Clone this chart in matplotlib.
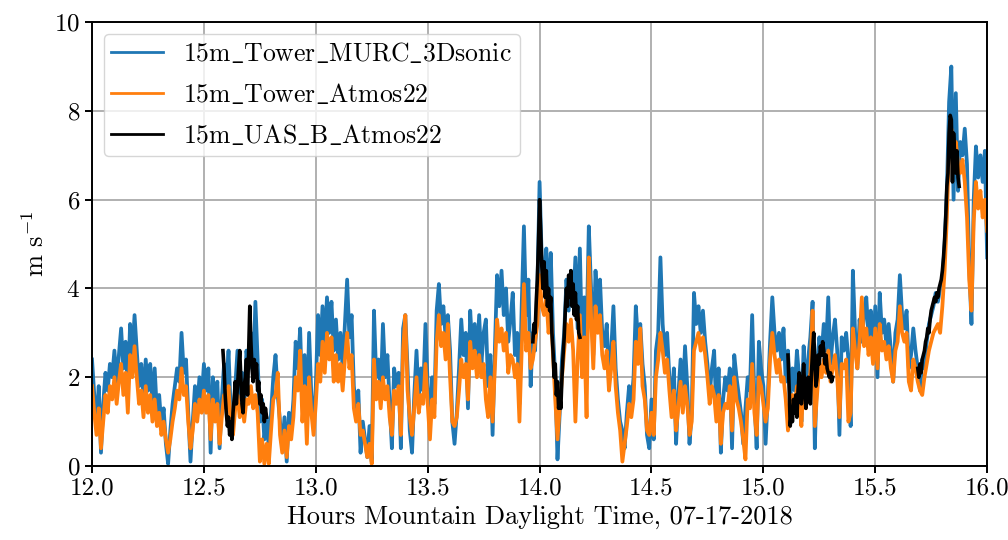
import numpy as np
import matplotlib
matplotlib.use("Agg")
import matplotlib.pyplot as plt

plt.rcParams['font.family'] = 'serif'
plt.rcParams['font.serif'] = ['cmr10', 'DejaVu Serif']
plt.rcParams['mathtext.fontset'] = 'cm'
plt.rcParams['axes.formatter.use_mathtext'] = True

# ---- data (hours MDT, m/s) ----
t_start, t_end = 12.0, 16.0

sonic_speed = [
    2.4, 1.6, 1.0, 1.8, 0.3, 1.4, 2.1, 1.7, 2.3, 2.0,
    2.6, 1.9, 2.5, 3.1, 2.2, 2.8, 1.6, 3.2, 2.5, 3.4,
    2.6, 1.8, 2.3, 1.5, 2.4, 1.7, 2.3, 1.4, 2.2, 1.2,
    1.6, 0.9, 1.3, 0.5, 0.05, 0.8, 1.4, 1.8, 2.2, 1.9,
    3.0, 2.1, 2.4, 1.2, 0.1, 1.0, 1.8, 1.3, 2.0, 1.5,
    2.3, 1.7, 2.2, 0.3, 2.0, 1.4, 1.9, 0.4, 1.5, 2.3,
    1.8, 2.6, 1.2, 0.9, 1.8, 2.6, 1.5, 2.1, 1.3, 2.6,
    2.2, 3.0, 2.0, 3.7, 2.4, 1.0, 1.5, 0.6, 1.1, 0.4,
    1.2, 2.0, 2.5, 1.6, 1.0, 0.4, 1.1, 0.1, 1.2, 0.8,
    1.5, 2.8, 2.2, 3.1, 1.4, 2.5, 1.0, 3.0, 1.6, 0.9,
    1.8, 3.4, 2.5, 3.6, 2.8, 3.8, 3.0, 3.7, 2.6, 3.3,
    2.4, 3.0, 2.2, 3.2, 4.2, 2.9, 3.4, 1.8, 1.2, 1.7,
    0.3, 1.0, 0.6, 0.2, 0.9, 0.1, 3.5, 2.0, 2.4, 1.6,
    3.2, 2.0, 2.5, 1.4, 0.4, 2.2, 1.8, 2.1, 0.4, 3.1,
    3.4, 2.2, 0.8, 0.3, 1.6, 2.6, 1.5, 2.2, 1.7, 3.2,
    1.8, 1.0, 2.0, 1.4, 3.5, 4.1, 3.2, 3.6, 2.9, 3.4,
    2.6, 1.0, 0.5, 1.2, 2.2, 3.3, 2.5, 3.0, 1.3, 3.5,
    2.6, 3.2, 2.4, 3.4, 2.3, 3.0, 3.3, 1.8, 2.5, 0.7,
    2.6, 4.3, 3.6, 4.4, 3.4, 4.0, 2.8, 3.3, 3.9, 2.5,
    3.0, 1.4, 3.6, 5.4, 3.4, 4.2, 1.8, 3.0, 2.6, 4.0,
    6.4, 4.6, 4.2, 4.9, 3.7, 4.8, 3.0, 2.0, 0.15, 1.2,
    2.4, 3.0, 4.2, 3.5, 4.4, 3.6, 4.7, 3.1, 4.9, 2.6,
    3.8, 2.9, 5.4, 4.0, 2.5, 4.4, 3.4, 4.2, 3.0, 2.7,
    3.2, 2.0, 2.6, 3.6, 2.2, 1.5, 1.0, 0.8, 0.4, 1.2,
    1.8, 1.4, 2.0, 3.6, 2.8, 3.2, 2.3, 1.8, 0.7, 0.4,
    1.5, 0.6, 2.6, 3.0, 4.7, 3.2, 2.5, 3.0, 2.0, 1.4,
    2.2, 0.5, 1.6, 2.4, 1.5, 2.7, 1.8, 0.5, 1.2, 3.9,
    3.2, 3.6, 3.0, 3.5, 2.8, 2.3, 1.6, 2.2, 2.6, 1.2,
    2.2, 0.3, 1.5, 2.0, 1.7, 2.2, 0.4, 2.5, 2.0, 1.6,
    1.2, 0.5, 1.3, 2.0, 1.7, 3.4, 1.5, 0.4, 2.8, 2.2,
    1.8, 0.5, 1.6, 2.8, 3.8, 3.0, 2.6, 3.0, 2.4, 3.1,
    1.9, 2.6, 1.5, 2.2, 1.7, 2.6, 2.0, 1.0, 2.7, 1.6,
    2.4, 2.9, 3.7, 0.4, 2.2, 2.9, 2.5, 3.2, 2.6, 3.8,
    2.3, 2.9, 3.3, 2.6, 0.7, 2.9, 2.6, 3.0, 2.4, 0.9,
    4.4, 3.0, 2.2, 3.3, 2.8, 3.4, 3.8, 2.9, 3.5, 2.4,
    3.6, 2.0, 3.9, 3.0, 3.3, 2.7, 3.2, 2.6, 1.9, 3.0,
    3.3, 4.3, 3.4, 3.1, 3.5, 2.2, 2.5, 3.1, 2.6, 2.2,
    1.7, 2.4, 2.2, 2.8, 3.2, 3.4, 3.6, 3.9, 3.7, 4.0,
    4.2, 5.0, 6.2, 8.2, 9.0, 6.0, 8.4, 6.2, 7.3, 7.0,
    7.6, 6.8, 4.5, 3.2, 6.0, 7.2, 6.5, 7.0, 6.4, 7.1,
    4.7,
]

atmos_speed = [
    1.8, 1.2, 0.7, 1.3, 0.4, 1.0, 1.6, 1.2, 1.8, 1.5,
    2.0, 1.4, 1.9, 2.3, 1.6, 2.1, 1.2, 2.5, 2.0, 2.7,
    2.0, 1.4, 1.7, 1.1, 1.8, 1.2, 1.6, 1.0, 1.5, 0.9,
    1.2, 0.7, 1.0, 0.6, 0.3, 0.6, 1.0, 1.3, 1.7, 1.5,
    2.2, 1.6, 1.8, 1.0, 0.4, 0.8, 1.4, 1.0, 1.5, 1.2,
    1.7, 1.2, 1.6, 0.6, 1.5, 1.0, 1.4, 0.5, 1.1, 1.6,
    1.3, 1.8, 0.9, 0.7, 1.3, 1.6, 1.1, 1.4, 1.0, 1.5,
    1.4, 1.8, 1.3, 1.6, 1.2, 0.1, 0.6, 0.05, 0.5, 0.05,
    0.8, 1.5, 1.6, 2.1, 0.7, 0.3, 0.8, 0.2, 0.9, 0.6,
    1.1, 2.0, 1.7, 2.6, 1.0, 1.8, 0.5, 2.0, 1.2, 0.7,
    1.4, 2.3, 1.9, 2.8, 2.1, 3.0, 2.4, 2.9, 1.9, 2.5,
    1.9, 2.3, 1.7, 2.4, 3.0, 2.2, 2.5, 1.3, 1.0, 1.4,
    0.7, 0.8, 0.5, 0.2, 0.5, 0.05, 2.4, 1.5, 1.9, 1.3,
    2.0, 1.5, 1.8, 1.1, 0.7, 1.7, 1.4, 1.8, 0.7, 2.6,
    3.4, 1.7, 1.1, 0.7, 1.3, 2.0, 1.2, 1.6, 1.4, 2.3,
    1.4, 0.6, 1.5, 1.1, 2.8, 3.4, 2.7, 3.0, 2.4, 3.2,
    2.0, 1.0, 0.9, 1.1, 1.7, 2.4, 2.0, 2.3, 1.5, 2.8,
    2.2, 2.6, 2.0, 2.5, 2.0, 2.3, 1.5, 1.1, 2.0, 1.0,
    2.2, 3.3, 2.8, 3.1, 2.6, 3.0, 2.1, 2.5, 2.4, 2.0,
    2.3, 1.0, 2.6, 4.1, 2.6, 3.0, 2.2, 2.4, 2.8, 3.2,
    4.3, 3.6, 3.4, 3.8, 3.0, 3.5, 2.5, 1.5, 0.6, 1.3,
    2.0, 2.6, 3.2, 2.8, 3.3, 2.6, 1.0, 2.4, 3.4, 2.0,
    2.9, 1.1, 4.7, 3.4, 2.2, 3.6, 3.0, 3.4, 2.5, 2.2,
    2.6, 1.7, 2.2, 2.8, 1.8, 1.2, 0.8, 0.1, 0.5, 0.9,
    1.4, 1.1, 1.5, 2.8, 2.3, 3.1, 1.8, 1.5, 0.8, 0.7,
    1.2, 0.7, 2.0, 2.4, 3.0, 2.6, 2.1, 2.4, 1.7, 1.1,
    1.7, 0.8, 1.3, 1.9, 1.2, 1.8, 1.4, 0.7, 1.0, 2.6,
    2.8, 3.0, 2.6, 2.9, 2.5, 2.0, 1.4, 1.8, 1.6, 1.0,
    1.6, 0.5, 1.2, 1.4, 1.3, 1.8, 0.8, 2.0, 1.5, 1.3,
    1.0, 0.6, 0.15, 1.5, 1.3, 2.3, 1.2, 0.7, 2.0, 1.8,
    1.4, 1.0, 1.3, 2.4, 3.0, 2.5, 2.1, 2.4, 1.9, 2.0,
    1.5, 0.8, 1.2, 1.6, 1.3, 1.8, 1.6, 0.9, 2.0, 1.3,
    1.8, 2.1, 3.5, 0.9, 1.6, 2.3, 2.0, 2.4, 2.1, 2.6,
    1.9, 2.2, 2.5, 2.0, 1.1, 2.3, 2.2, 2.4, 1.0, 1.2,
    3.1, 2.6, 2.2, 2.8, 3.8, 2.7, 3.1, 2.5, 2.9, 2.3,
    3.1, 2.2, 3.2, 2.6, 2.8, 2.4, 2.7, 2.2, 1.9, 2.6,
    2.8, 3.6, 3.0, 2.8, 3.0, 1.9, 1.7, 2.4, 2.2, 1.9,
    1.7, 1.6, 2.0, 2.3, 2.6, 2.8, 3.0, 3.1, 3.2, 3.0,
    3.6, 4.4, 5.6, 7.2, 7.6, 7.0, 7.3, 6.8, 6.6, 6.9,
    6.4, 5.6, 4.2, 3.5, 5.5, 6.4, 5.8, 6.2, 5.6, 6.0,
    5.3,
]

# UAS flight segments (start hour, values every 0.005 h)
uas_seg_starts = [12.585, 13.97, 15.11, 15.69]
uas_seg1 = [2.6, 2.2, 1.6, 1.2, 0.9, 1.1, 0.7, 1.0, 0.6, 1.2, 1.5, 1.9, 1.4, 1.8,
            2.2, 2.6, 2.0, 1.4, 1.2, 1.8, 2.0, 2.4, 1.6, 2.6, 3.6, 2.8, 2.2, 1.9,
            2.4, 2.0, 2.3, 1.7, 1.9, 1.4, 1.6, 1.2, 1.4, 1.0, 1.3, 1.1]
uas_seg2 = [2.8, 3.2, 3.0, 3.7, 4.2, 5.0, 6.0, 5.3, 4.5, 4.0, 4.6, 3.8, 4.4, 3.6,
            4.0, 3.5, 3.8, 3.0, 2.6, 2.0, 2.3, 1.6, 1.9, 1.3, 1.6, 1.3, 2.0, 2.5,
            2.9, 3.5, 4.0, 3.6, 4.3, 3.8, 4.4, 3.6, 4.1, 3.4, 3.9, 3.3, 3.6, 3.0, 2.9]
uas_seg3 = [2.5, 1.8, 0.9, 1.2, 1.0, 1.5, 1.2, 1.6, 1.1, 1.7, 2.1, 1.5, 1.4, 1.9,
            2.3, 1.7, 1.3, 1.8, 2.0, 1.6, 1.4, 2.1, 2.6, 3.0, 2.4, 1.8, 2.0, 2.5,
            2.3, 2.7, 2.5, 2.8, 2.6, 2.3, 2.5, 2.2, 2.1, 2.0, 2.1, 1.9, 2.0]
uas_seg4 = [2.2, 2.0, 2.3, 2.1, 2.4, 2.5, 2.6, 2.8, 2.9, 3.1, 3.0, 3.3, 3.5, 3.6,
            3.7, 3.8, 3.7, 3.9, 3.8, 4.0, 4.1, 4.2, 4.4, 4.7, 5.1, 5.6, 6.3, 6.6,
            7.5, 7.9, 7.8, 6.4, 7.5, 7.0, 6.6, 7.1, 6.5, 6.3]
uas_segments = [uas_seg1, uas_seg2, uas_seg3, uas_seg4]
uas_dt = 0.005

labels = [r'$\mathrm{15m\_Tower\_MURC\_3Dsonic}$',
          r'$\mathrm{15m\_Tower\_Atmos22}$',
          r'$\mathrm{15m\_UAS\_B\_Atmos22}$']
colors = ['#1f77b4', '#ff7f0e', 'black']

# ---- plot ----
fig = plt.figure(figsize=(10.08, 5.4), dpi=100)
ax = fig.add_axes([0.0913, 0.137, 0.888, 0.822])

t_tower = np.linspace(t_start, t_end, len(sonic_speed))
ax.plot(t_tower, sonic_speed, color=colors[0], lw=2.7, label=labels[0])
ax.plot(t_tower, atmos_speed, color=colors[1], lw=2.7, label=labels[1])
for k, (t0, seg) in enumerate(zip(uas_seg_starts, uas_segments)):
    ts = t0 + uas_dt * np.arange(len(seg))
    ax.plot(ts, seg, color=colors[2], lw=2.6, label=labels[2] if k == 0 else None)

ax.set_xlim(12.0, 16.0)
ax.set_ylim(0, 10)
ax.set_xticks(np.arange(12.0, 16.01, 0.5))
ax.set_xticklabels([f'{v:.1f}' for v in np.arange(12.0, 16.01, 0.5)])
ax.set_yticks([0, 2, 4, 6, 8, 10])
ax.grid(True, color='#b0b0b0', lw=1.4)
ax.set_axisbelow(True)
for s in ax.spines.values():
    s.set_linewidth(1.4)
ax.tick_params(labelsize=18, width=1.4, length=5)
ax.set_xlabel('Hours Mountain Daylight Time, 07-17-2018', fontsize=19)
ax.set_ylabel(r'm s$^{-1}$', fontsize=19)

leg = ax.legend(loc='upper left', fontsize=18.5, handlelength=2.0, framealpha=0.8,
                labelspacing=0.62, borderpad=0.3, borderaxespad=0.45)
leg.get_frame().set_linewidth(1.0)
for line in leg.get_lines():
    line.set_linewidth(2.0)

fig.savefig('out.png', dpi=100)
